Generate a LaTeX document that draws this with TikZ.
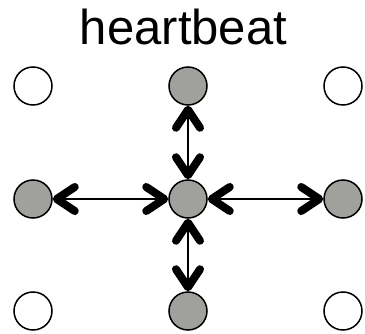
\documentclass[tikz,border=0pt]{standalone}
\usepackage{fontspec}
\setmainfont{Liberation Sans}
\usetikzlibrary{arrows.meta,positioning}
\definecolor{nodegray}{RGB}{160,160,156}

\begin{document}
\begin{tikzpicture}[x=1pt,y=-1pt,
        idle/.style={circle, draw, line width=1.5pt, fill=white, minimum size=38pt, inner sep=0pt},
        peer/.style={idle, fill=nodegray},
        beat/.style={line width=1.1pt, arrows={Straight Barb[length=18pt,width=24pt,line width=8pt,round]-Straight Barb[length=18pt,width=24pt,line width=8pt,round]}}
      ]
        \useasboundingbox (0,0) rectangle (365,334);
        % Titel
        \node[anchor=base, font=\fontsize{49}{52}\selectfont] (title) at (183.5,45) {heartbeat};

        % obere Reihe
        \node[idle] (tl) at (33,86) {};
        \node[peer] (tc) at (188,86) {};
        \node[idle] (tr) at (343,86) {};

        % mittlere Reihe
        \node[peer] (ml) at (33,199) {};
        \node[peer] (mc) at (188,199) {};
        \node[peer] (mr) at (343,199) {};

        % untere Reihe
        \node[idle] (bl) at (33,311) {};
        \node[peer] (bc) at (188,311) {};
        \node[idle] (br) at (343,311) {};

        % Heartbeats
        \draw[beat] (mc) -- (tc);
        \draw[beat] (mc) -- (bc);
        \draw[beat] (mc) -- (ml);
        \draw[beat] (mc) -- (mr);
      \end{tikzpicture}
\end{document}
